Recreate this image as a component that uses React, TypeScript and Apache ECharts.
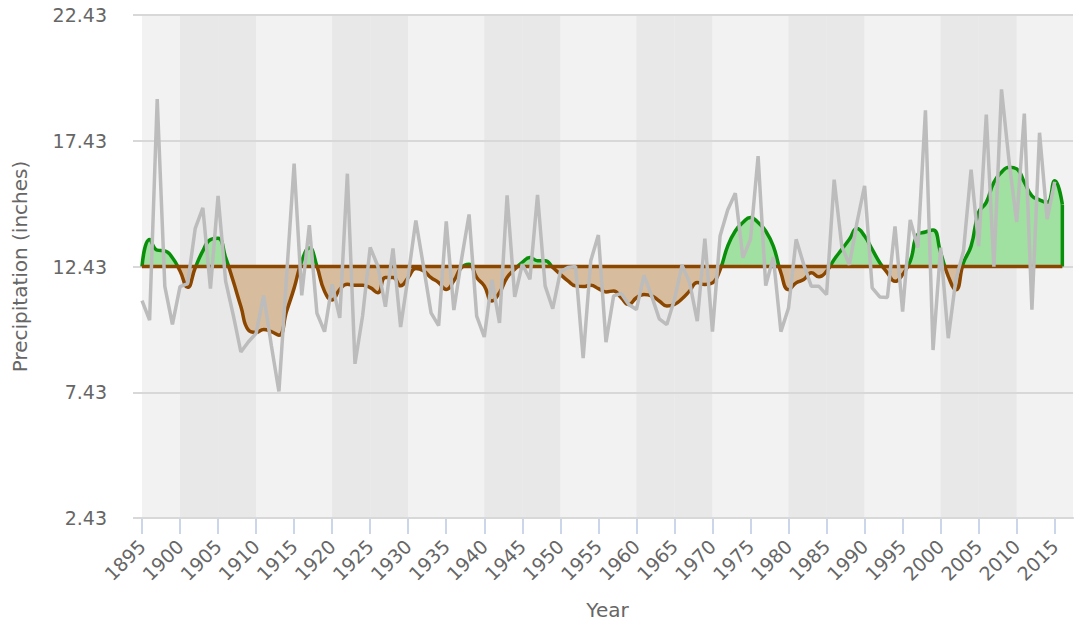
import React, { useEffect, useRef } from "react";
import * as echarts from "echarts";

// Annual precipitation (inches), one value per year starting in 1895
const startYear = 1895;
const precipitation = [
  11.07, 10.3, 19.09, 11.64, 10.13, 11.63, 11.75, 13.95, 14.76, 11.55,
  15.24, 11.84, 10.5, 9.03, 9.44, 9.77, 11.28, 9.3, 7.46, 12.0,
  16.52, 11.28, 14.07, 10.57, 9.84, 11.72, 10.39, 16.12, 8.56, 10.46,
  13.19, 12.45, 10.83, 13.15, 10.02, 12.06, 14.26, 12.45, 10.59, 10.08,
  14.22, 10.7, 12.7, 14.5, 10.46, 9.63, 11.9, 10.19, 15.26, 11.22,
  12.52, 11.92, 15.28, 11.66, 10.75, 12.22, 12.39, 12.43, 8.79, 12.66,
  13.68, 9.42, 11.26, 11.36, 10.92, 10.72, 12.08, 11.26, 10.35, 10.12,
  11.12, 12.48, 11.79, 10.26, 13.54, 9.84, 13.64, 14.68, 15.34, 12.78,
  13.51, 16.82, 11.67, 12.8, 9.84, 10.78, 13.51, 12.51, 11.64, 11.64,
  11.31, 15.88, 13.24, 12.5, 14.18, 15.64, 11.58, 11.22, 11.2, 14.02,
  10.64, 14.28, 13.18, 18.64, 9.11, 13.18, 9.58, 11.91, 13.04, 16.28,
  13.24, 18.47, 12.42, 19.47, 16.6, 14.2, 18.51, 10.71, 17.75, 14.31,
  15.8,
];

// Smoothed trend (inches), one value per year starting in 1895
const smoothed = [
  12.43, 13.5, 13.08, 13.05, 12.78, 12.25, 11.6, 12.38, 13.05, 13.5,
  13.55, 12.78, 11.84, 10.84, 9.9, 9.81, 9.93, 9.84, 9.7, 10.64,
  11.57, 12.64, 13.18, 12.44, 11.44, 11.1, 11.52, 11.72, 11.68, 11.68,
  11.59, 11.39, 11.99, 11.99, 11.66, 11.99, 12.35, 12.26, 11.99, 11.79,
  11.52, 11.86, 12.39, 12.52, 11.99, 11.66, 11.06, 11.39, 11.99, 12.32,
  12.59, 12.79, 12.66, 12.66, 12.39, 12.12, 11.86, 11.66, 11.63, 11.68,
  11.55, 11.42, 11.46, 11.19, 10.92, 11.19, 11.32, 11.26, 11.06, 10.86,
  10.92, 11.15, 11.46, 11.79, 11.71, 11.78, 12.3, 13.24, 13.84, 14.18,
  14.38, 14.18, 13.84, 13.24, 12.18, 11.51, 11.78, 11.91, 12.18, 12.02,
  12.24, 12.71, 13.11, 13.51, 13.94, 13.64, 13.11, 12.58, 12.18, 11.84,
  12.11, 12.64, 13.71, 13.8, 13.88, 12.98, 12.04, 11.51, 12.58, 13.24,
  14.58, 14.98, 15.78, 16.18, 16.38, 16.31, 15.78, 15.24, 15.08, 14.98,
  15.84, 14.9,
];

// Long-term mean, used as the threshold between wet and dry
const baseline = 12.43;

// Axis ranges and ticks
const yMin = 2.43;
const yMax = 22.43;
const yStep = 5;
const xMin = 1895;
const xMax = 2017.4;
const xStep = 5;
const xTicks = [
  1895, 1900, 1905, 1910, 1915, 1920, 1925, 1930, 1935, 1940, 1945, 1950,
  1955, 1960, 1965, 1970, 1975, 1980, 1985, 1990, 1995, 2000, 2005, 2010,
  2015,
];

// Background shading: alternating decades, one colour per 5-year step
const LIGHT = "#f2f2f2";
const DARK = "#e8e8e8";
const bandColors = [LIGHT, DARK, DARK, LIGHT];

const FONT = "DejaVu Sans";
const TEXT = "#666666";
const WET_LINE = "#0a8f0a";
const DRY_LINE = "#8b4600";
const WET_FILL = "#a0e0a0";
const DRY_FILL = "#d7bd9d";
const RAW_LINE = "#bcbcbc";

// Two closed value ranges (below / above the mean) for colouring by value
function splitPieces(dry: string, wet: string) {
  return [
    { gte: yMin, lt: baseline, color: dry },
    { gte: baseline, lte: yMax, color: wet },
  ];
}

function buildOption(customTicks: boolean) {
  const rawPoints = precipitation.map((v, i) => [startYear + i, v]);
  const trendPoints = smoothed.map((v, i) => [startYear + i, v]);
  const lastTrend = trendPoints[trendPoints.length - 1];
  const firstYear = trendPoints[0][0];
  const lastYear = lastTrend[0];

  const tickExtra = customTicks ? { customValues: xTicks } : {};

  return {
    animation: false,
    backgroundColor: "#ffffff",
    textStyle: { fontFamily: FONT },
    grid: {
      left: 142,
      right: 2,
      top: 15,
      bottom: 112,
      show: true,
      backgroundColor: LIGHT,
      borderWidth: 0,
    },
    xAxis: {
      type: "value",
      min: xMin,
      max: xMax,
      interval: xStep,
      z: 0,
      name: "Year",
      nameLocation: "middle",
      nameGap: 82,
      nameTextStyle: { color: TEXT, fontSize: 20, fontFamily: FONT },
      axisLine: { show: true, lineStyle: { color: "#ccd6eb", width: 2 } },
      axisTick: {
        show: true,
        length: 16,
        lineStyle: { color: "#ccd6eb", width: 2 },
        ...tickExtra,
      },
      axisLabel: {
        rotate: 45,
        margin: 25,
        color: TEXT,
        fontSize: 19,
        fontFamily: FONT,
        formatter: (v: number) =>
          Math.abs(v / xStep - Math.round(v / xStep)) < 1e-6
            ? String(Math.round(v))
            : "",
        ...tickExtra,
      },
      splitLine: { show: false },
      splitArea: { show: true, areaStyle: { color: bandColors } },
    },
    yAxis: {
      type: "value",
      min: yMin,
      max: yMax,
      interval: yStep,
      z: 1,
      name: "Precipitation (inches)",
      nameLocation: "middle",
      nameGap: 112,
      nameTextStyle: { color: TEXT, fontSize: 20, fontFamily: FONT },
      axisLine: { show: false },
      axisTick: {
        show: true,
        length: 9,
        lineStyle: { color: "#d8d8d8", width: 2 },
      },
      axisLabel: {
        margin: 35,
        color: TEXT,
        fontSize: 19,
        fontFamily: FONT,
        formatter: (v: number) => v.toFixed(2),
      },
      splitLine: { show: true, lineStyle: { color: "#d8d8d8", width: 2 } },
    },
    visualMap: [
      {
        type: "piecewise",
        show: false,
        seriesIndex: 0,
        dimension: 1,
        pieces: splitPieces(DRY_FILL, WET_FILL),
      },
      {
        type: "piecewise",
        show: false,
        seriesIndex: 1,
        dimension: 1,
        pieces: splitPieces(DRY_LINE, WET_LINE),
      },
    ],
    series: [
      {
        name: "trend area",
        type: "line",
        z: 2,
        data: trendPoints,
        smooth: 0.5,
        showSymbol: false,
        silent: true,
        lineStyle: { width: 0 },
        areaStyle: { origin: baseline, opacity: 1 },
      },
      {
        name: "trend",
        type: "line",
        z: 3,
        data: trendPoints,
        smooth: 0.5,
        showSymbol: false,
        silent: true,
        lineStyle: { width: 3.5 },
      },
      {
        name: "trend edge",
        type: "line",
        z: 3,
        data: [lastTrend, [lastYear, baseline]],
        showSymbol: false,
        silent: true,
        lineStyle: { width: 3.5, color: WET_LINE },
      },
      {
        name: "mean",
        type: "line",
        z: 4,
        data: [
          [firstYear, baseline],
          [lastYear, baseline],
        ],
        showSymbol: false,
        silent: true,
        lineStyle: { width: 3.5, color: DRY_LINE },
      },
      {
        name: "Precipitation",
        type: "line",
        z: 5,
        data: rawPoints,
        showSymbol: false,
        silent: true,
        lineStyle: { width: 3.5, color: RAW_LINE },
      },
    ],
  };
}

export default function App() {
  const ref = useRef<HTMLDivElement>(null);

  useEffect(() => {
    const el = ref.current;
    if (!el) return;
    let chart = echarts.init(el, undefined, { renderer: "svg" });
    try {
      chart.setOption(buildOption(true));
    } catch (e) {
      chart.dispose();
      chart = echarts.init(el, undefined, { renderer: "svg" });
      chart.setOption(buildOption(false));
    }
    return () => chart.dispose();
  }, []);

  return (
    <div
      ref={ref}
      style={{ position: "fixed", left: 0, top: 0, width: 1075, height: 630 }}
    />
  );
}
